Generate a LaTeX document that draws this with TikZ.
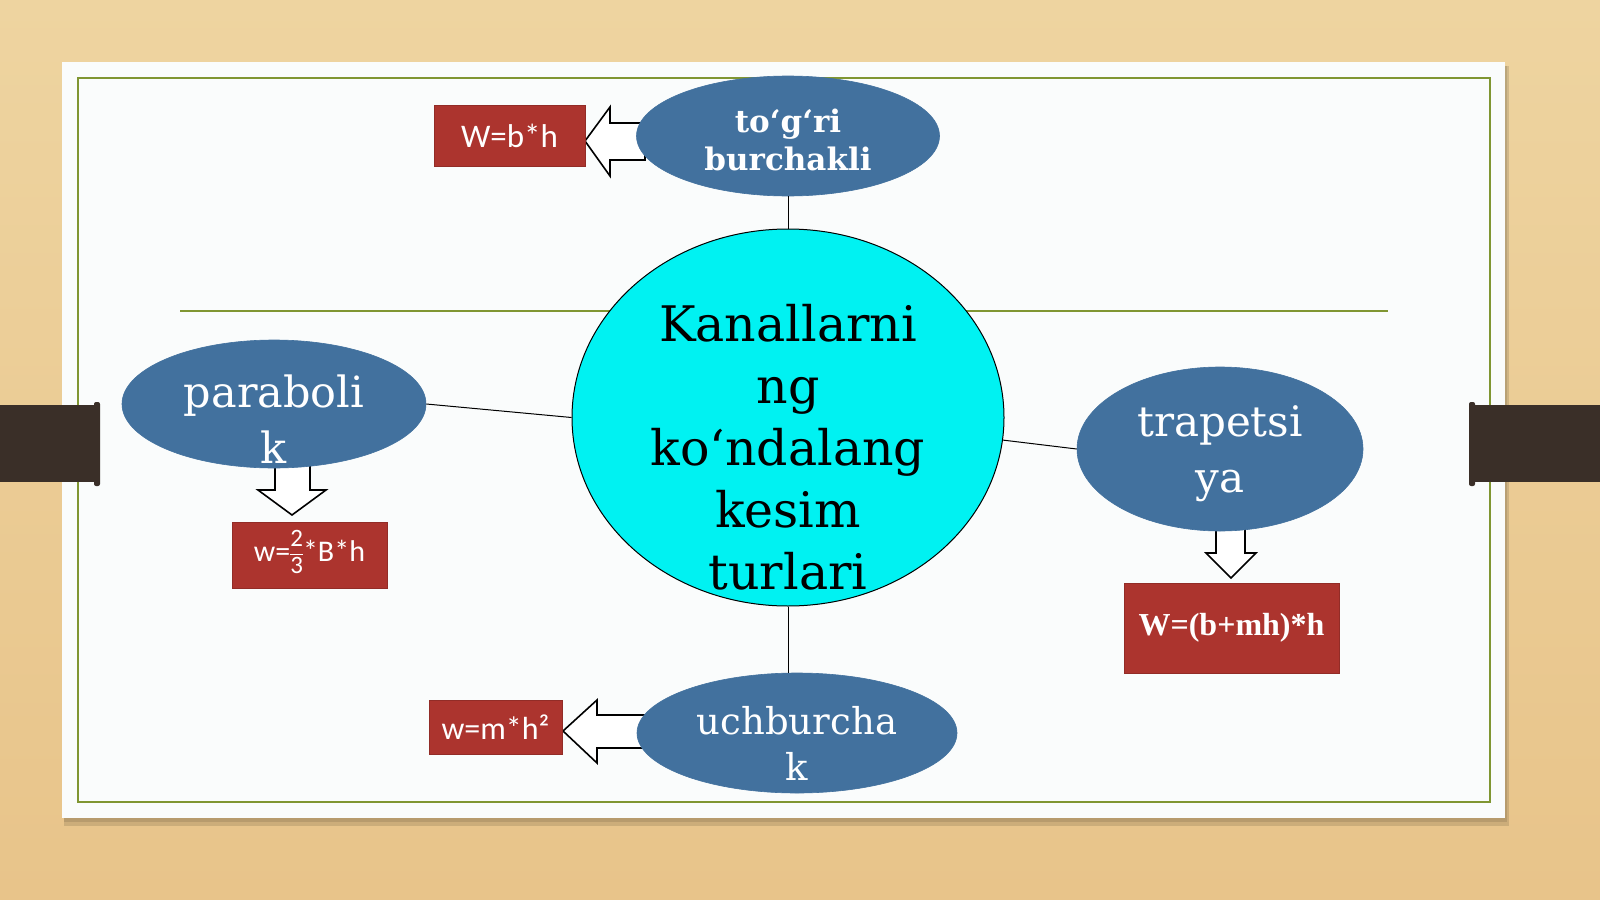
\documentclass[tikz,border=0pt]{standalone}
\usepackage{fontspec}
\setmainfont{DejaVu Serif}
\newfontfamily\carl{Carlito}
\newfontfamily\lser{Liberation Serif}
\usetikzlibrary{shapes.geometric}
\definecolor{woodtop}{RGB}{238,212,160}
\definecolor{woodbot}{RGB}{232,196,138}
\definecolor{slidebg}{RGB}{250,252,252}
\definecolor{olive}{RGB}{128,150,50}
\definecolor{ellblue}{RGB}{66,113,158}
\definecolor{boxred}{RGB}{172,52,46}
\definecolor{cyanfill}{RGB}{0,242,242}
\definecolor{tabdark}{RGB}{58,47,40}
\newcommand\mytwothirds{{\fontsize{25}{25}\selectfont\setlength\arrayrulewidth{1pt}\setlength\tabcolsep{0pt}\renewcommand\arraystretch{0.8}\begin{tabular}[c]{@{}c@{}}2\\[1pt]\hline\rule{0pt}{19pt}3\end{tabular}}}
\tikzset{
  blueell/.style={ellipse, fill=ellblue, draw=ellblue, line width=0.6pt, inner sep=0pt},
  redbox/.style={rectangle, fill=boxred, draw=boxred!85!black, line width=0.6pt, inner sep=0pt, text=white},
  hollow/.style={fill=white, draw=black, line width=1.6pt, line join=miter},
  link/.style={draw=black, line width=1pt},
  elltext/.style={text=white, align=center, inner sep=0pt}
}
\begin{document}
\begin{tikzpicture}[x=1pt,y=-1pt]
\useasboundingbox (0,0) rectangle (1600,899);
% background
\shade[top color=woodtop, bottom color=woodbot] (0,0) rectangle (1600,899);
% slide shadow
\fill[black, opacity=0.12] (64,66) rectangle (1509,826);
\fill[black, opacity=0.10] (64,66) rectangle (1507,822);
% slide
\fill[slidebg] (62,62) rectangle (1505,818);
\draw[olive, line width=1.4pt] (78,78) rectangle (1490,802);
% tabs
\fill[tabdark] (0,405) rectangle (97,482);
\fill[tabdark, rounded corners=2pt] (94,402) rectangle (100,486);
\fill[tabdark] (1473,405) rectangle (1600,482);
\fill[tabdark, rounded corners=2pt] (1469,402) rectangle (1475,486);
% horizontal line
\draw[olive, line width=1.2pt] (180,311) -- (1388,311);

% nodes
\node[ellipse, fill=cyanfill, draw=black, line width=1pt, minimum width=432pt, minimum height=377pt, inner sep=0pt] (center) at (788,417.5) {};
\node[align=center, inner sep=0pt, font=\fontsize{49}{62}\selectfont] (centertext) at (788,447) {Kanallarni\\ng\\ko‘ndalang\\kesim\\turlari};

% arrows (behind ellipses)
\draw[hollow] (645,123) -- (610,123) -- (610,107) -- (585,141) -- (610,176) -- (610,160) -- (645,160) -- cycle;
\draw[hollow] (275,460) -- (275,490) -- (258,490) -- (292,515) -- (326,490) -- (310,490) -- (310,460) -- cycle;
\draw[hollow] (1216,524) -- (1216,553) -- (1206,553) -- (1231,578) -- (1256,553) -- (1245,553) -- (1245,524) -- cycle;
\draw[hollow] (645,715) -- (597,715) -- (597,700) -- (563,731) -- (597,763) -- (597,748) -- (645,748) -- cycle;

\node[blueell, minimum width=303pt, minimum height=120pt] (rect) at (788,136) {};
\node[elltext, font=\bfseries\fontsize{31}{38}\selectfont] (recttext) at (788,140) {to‘g‘ri\\burchakli};

\node[blueell, minimum width=304pt, minimum height=128pt] (parab) at (274,404) {};
\node[elltext, font=\fontsize{43}{56}\selectfont] (parabtext) at (274,419) {paraboli\\k};

\node[blueell, minimum width=286pt, minimum height=164pt] (trap) at (1220,449) {};
\node[elltext, font=\fontsize{42}{56}\selectfont] (traptext) at (1220,454) {trapetsi\\ya};

\node[blueell, minimum width=320pt, minimum height=120pt] (uch) at (797,733) {};
\node[elltext, font=\fontsize{37}{46}\selectfont] (uchtext) at (797,743) {uchburcha\\k};

% boxes
\node[redbox, minimum width=151pt, minimum height=61pt, font=\carl\fontsize{33}{38}\selectfont] (b1) at (509.5,135.5) {W=b*h};
\node[redbox, minimum width=155pt, minimum height=66pt, font=\carl\fontsize{30}{34}\selectfont] (b2) at (309.5,555) {w=\mytwothirds*B*h};
\node[redbox, minimum width=215pt, minimum height=90pt, font=\lser\bfseries\fontsize{32}{36}\selectfont] (b3) at (1231.5,628) {W=(b+mh)*h};
\node[redbox, minimum width=133pt, minimum height=54pt, font=\carl\fontsize{32}{36}\selectfont] (b4) at (495.5,727) {w=m*h²};

% connectors
\draw[link] (rect.south) -- (center.north);
\draw[link] (parab.east) -- (center.west);
\draw[link] (center.-6) -- (trap.west);
\draw[link] (center.south) -- (center.south |- uch.north);
\end{tikzpicture}
\end{document}
